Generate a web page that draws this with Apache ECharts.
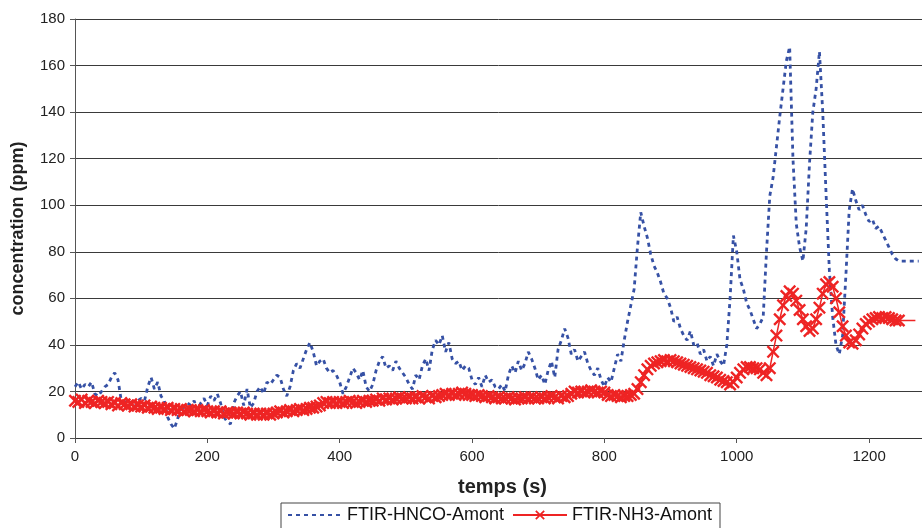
<!DOCTYPE html>
<html><head><meta charset="utf-8">
<script src="https://cdn.jsdelivr.net/npm/echarts@6/dist/echarts.min.js"></script>
<style>html,body{margin:0;padding:0;background:#fff}#c{width:922px;height:528px}</style>
</head><body><div id="c"></div>
<script>
const tStep = 5; // seconds between samples
const hnco = [
22,24,21,23,22,24,19,18,20,22,
23,26,28,25,16,14,17,15,13,16,
17,16,22,26,21,24,18,16,9,6,
4,8,14,13,15,14,16,12,15,17,
14,18,16,19,15,9,7,6,15,18,
20,14,21,13,15,20,22,19,24,23,
25,27,26,21,18,22,29,32,30,34,
38,41,37,31,33,34,30,28,29,27,
24,19,22,26,30,28,25,29,22,20,
23,29,33,35,30,31,29,33,30,28,
26,23,21,27,25,31,34,29,38,42,
40,44,37,41,34,32,33,29,31,30,
25,23,26,22,27,24,25,22,21,23,
20,27,31,28,33,29,32,37,34,30,
25,27,23,29,33,26,38,42,47,43,
36,38,33,35,37,32,29,27,30,25,
22,26,24,30,36,33,42,50,57,64,
82,97,91,86,79,74,71,67,62,60,
56,50,52,47,44,42,46,40,41,36,
38,33,35,31,36,33,31,40,60,87,
80,68,64,58,55,51,47,49,52,80,
104,112,125,138,150,162,168,120,92,82,
76,90,118,140,150,166,140,105,72,52,
40,36,44,70,98,107,102,98,100,96,
93,94,90,91,88,85,82,79,77,76,
76,76,76,76,76,76
];
const nh3 = [
16,15.5,16.5,15,16,15.5,15,16,15.5,15,
15.5,14.5,15,14,15,14.5,14,14.5,13.5,14,
13.5,14,13,13.5,13,12.5,13,12.5,13,12,
12.5,12,12.5,11.5,12,12,11.5,12,11.5,12,
11.5,11,11.5,11,11.5,10.5,11,11,10.5,11,
10.5,11,10.5,10,10.5,10,10.5,10,10.5,10,
10.5,11,11.5,11,11.5,12,11.5,12,12.5,12,
12.5,13,13,13.5,14,15,15.5,15,15.5,15,
15.5,15,15.5,16,15.5,15,15.5,16,15.5,16,
16,16.5,16,17,16.5,17,16.5,17,17.5,17,
17,17.5,17,17.5,17,18,17.5,17,18,17.5,
18,18.5,19,18.5,19,18.5,19,19.5,19,18.5,
18.5,18,18.5,18,17.5,18,17.5,17,17.5,17,
17,17.5,17,16.5,17,17,17.5,17,17.5,17,
17,17.5,17,17.5,18,17.5,17,18,17.5,18,
19,20,19.5,20,19.5,20,20.5,20,19.5,20,
19.5,18.5,18,18.5,18,17.5,18,18,18.5,19,
21,24,27,29.5,31,32,32.5,33,33.5,33,
33.5,33,32.5,32,31.5,31,30.5,30,29.5,29,
28.5,28,27,26.5,26,25,24.5,24,23,24,
26,28,29.5,30.5,30.5,30,30,29.5,28,27,
30,37,44,51,57,61,63,62,59,55,
51,48,46,47,51,56,62,66,67,65,
60,54,48,44,41,40.5,42,44.5,47,49,
50,51,51.5,52,51.5,52,51.5,51,50.5,50.5,
50.5,50.5,50.5,50.5,50.5
];
const nh3MarkerEnd = 1245; // last sample drawn with a marker
const seriesNames = ['FTIR-HNCO-Amont','FTIR-NH3-Amont'];
const xTicks = [0,200,400,600,800,1000,1200];
const yTicks = [0,20,40,60,80,100,120,140,160,180];

const xSym = 'path://M0,1.3L1.3,0L5,3.7L8.7,0L10,1.3L6.3,5L10,8.7L8.7,10L5,6.3L1.3,10L0,8.7L3.7,5Z';
const hncoData = hnco.map((v,i)=>[i*tStep, v]);
const nh3Data = nh3.map((v,i)=>{
  const t = i*tStep;
  return t <= nh3MarkerEnd ? [t, v] : {value:[t, v], symbol:'none'};
});

const chart = echarts.init(document.getElementById('c'), null, {renderer:'canvas'});
chart.setOption({
  animation:false,
  backgroundColor:'#fff',
  grid:{left:75, right:0, top:19, bottom:90},
  xAxis:{
    type:'value', min:0, max:1280, interval:200,
    name:'temps (s)', nameLocation:'middle', nameGap:39,
    nameTextStyle:{fontFamily:'Liberation Sans', fontWeight:'bold', fontSize:20, color:'#222', padding:[0,0,0,8]},
    axisLine:{lineStyle:{color:'#333', width:1}},
    axisTick:{show:true, length:5, lineStyle:{color:'#555'}},
    axisLabel:{fontFamily:'Liberation Sans', fontSize:15, color:'#222', margin:11, showMaxLabel:false,
      formatter:(v)=> xTicks.includes(v) ? String(v) : ''},
    splitLine:{show:false}
  },
  yAxis:{
    type:'value', min:0, max:180, interval:20,
    name:'concentration (ppm)', nameLocation:'middle', nameGap:48,
    nameTextStyle:{fontFamily:'Liberation Sans', fontWeight:'bold', fontSize:18, color:'#222'},
    axisLine:{show:true, lineStyle:{color:'#555', width:1}},
    axisTick:{show:true, length:5, lineStyle:{color:'#555'}},
    axisLabel:{fontFamily:'Liberation Sans', fontSize:15, color:'#222', margin:10,
      formatter:(v)=> yTicks.includes(v) ? String(v) : ''},
    splitLine:{show:true, lineStyle:{color:'#3a3a3a', width:1}}
  },
  legend:{
    left:281, top:503, orient:'horizontal',
    padding:[3,8,6,6], itemGap:8, itemWidth:54, itemHeight:12,
    borderColor:'#444', borderWidth:1,
    textStyle:{fontFamily:'Liberation Sans', fontSize:18, color:'#111'},
    data:[
      {name:seriesNames[0], itemStyle:{opacity:0}},
      {name:seriesNames[1], itemStyle:{opacity:1}}
    ]
  },
  series:[
    {
      name:seriesNames[0], type:'line', data:hncoData,
      showSymbol:false, symbol:'none', z:2,
      lineStyle:{color:'#3651a5', width:2.8, type:[4,4]},
      itemStyle:{color:'#3651a5'}
    },
    {
      name:seriesNames[1], type:'line', data:nh3Data,
      symbol:xSym, symbolSize:13, showSymbol:true, showAllSymbol:true, z:3,
      lineStyle:{color:'#ee2424', width:1.5},
      itemStyle:{color:'#ee2424'}
    }
  ]
});
</script>
</body></html>
